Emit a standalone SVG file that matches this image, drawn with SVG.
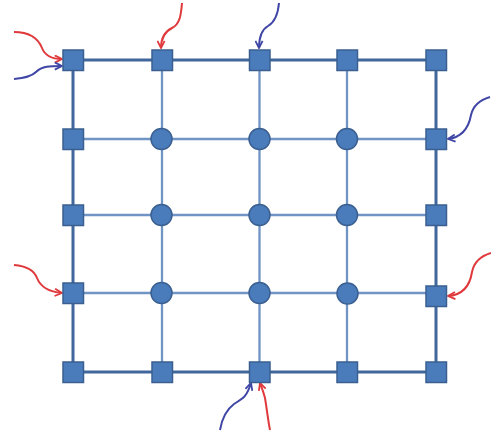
<svg xmlns="http://www.w3.org/2000/svg" width="491" height="432" viewBox="0 0 491 432">
<defs>
<style>
.outer{stroke:#41679c;stroke-width:3;fill:none}
.inner{stroke:#7094c4;stroke-width:2.3;fill:none}
.sq{fill:#4a7cbc;stroke:#3a5f90;stroke-width:1.5}
.ci{fill:#4a7cbc;stroke:#3a5f90;stroke-width:1.5}
.red{stroke:#e0393c;stroke-width:2;fill:none;marker-end:url(#ar)}
.blue{stroke:#3f46a6;stroke-width:2;fill:none;marker-end:url(#ab)}
</style>
<marker id="ar" viewBox="0 0 10 10" refX="9" refY="5" markerWidth="4.5" markerHeight="4.5" orient="auto" markerUnits="strokeWidth">
<path d="M1,1 L9,5 L1,9" fill="none" stroke="#e0393c" stroke-width="2"/>
</marker>
<marker id="ab" viewBox="0 0 10 10" refX="9" refY="5" markerWidth="4.5" markerHeight="4.5" orient="auto" markerUnits="strokeWidth">
<path d="M1,1 L9,5 L1,9" fill="none" stroke="#3f46a6" stroke-width="2"/>
</marker>
</defs>
<rect width="491" height="432" fill="#ffffff"/>
<g id="connectors">
<path class="inner" d="M73,139 H436 M73,215 H436 M73,293 H436"/>
<path class="inner" d="M162,60 V372 M259.5,60 V372 M347,60 V372"/>
<path class="outer" d="M73,60 H436 V372 H73 Z"/>
<path class="red" d="M14,32 C30,32 38,38 42,48 C45,56 52,59 62,59"/>
<path class="blue" d="M14,79 C26,78 32,76 36,72 C42,66 50,66 62,66"/>
<path class="red" d="M182,3 C181,15 180,24 172,28 C164,32 161,38 161,48"/>
<path class="blue" d="M279,3 C278,14 275,22 268,26 C261,30 259,38 259,48"/>
<path class="blue" d="M490,97 C480,100 473,106 471,115 C469,126 464,137 448,139"/>
<path class="red" d="M14,265 C26,266 34,270 37,278 C41,288 50,292 62,293"/>
<path class="red" d="M491,253 C481,256 474,262 472,272 C470,285 464,295 448,296"/>
<path class="blue" d="M220,430 C222,418 226,410 234,404 C244,398 247,396 251,383"/>
<path class="red" d="M270,430 C268,420 267,410 265,398 C263,390 261,386 260,383"/>
</g>
<g id="n00"><rect class="sq" x="63" y="50" width="20.5" height="20.5"/></g>
<g id="n01"><rect class="sq" x="152" y="50" width="20.5" height="20.5"/></g>
<g id="n02"><rect class="sq" x="249.5" y="50" width="20.5" height="20.5"/></g>
<g id="n03"><rect class="sq" x="337" y="50" width="20.5" height="20.5"/></g>
<g id="n04"><rect class="sq" x="426" y="50" width="20.5" height="20.5"/></g>
<g id="n10"><rect class="sq" x="63" y="129" width="20.5" height="20.5"/></g>
<g id="n11"><circle class="ci" cx="161.5" cy="139" r="10.5"/></g>
<g id="n12"><circle class="ci" cx="259.5" cy="139" r="10.5"/></g>
<g id="n13"><circle class="ci" cx="347" cy="139" r="10.5"/></g>
<g id="n14"><rect class="sq" x="426" y="129" width="20.5" height="20.5"/></g>
<g id="n20"><rect class="sq" x="63" y="205" width="20.5" height="20.5"/></g>
<g id="n21"><circle class="ci" cx="161.5" cy="215" r="10.5"/></g>
<g id="n22"><circle class="ci" cx="259.5" cy="215" r="10.5"/></g>
<g id="n23"><circle class="ci" cx="347" cy="215" r="10.5"/></g>
<g id="n24"><rect class="sq" x="426" y="205" width="20.5" height="20.5"/></g>
<g id="n30"><rect class="sq" x="63" y="283" width="20.5" height="20.5"/></g>
<g id="n31"><circle class="ci" cx="161.5" cy="293" r="10.5"/></g>
<g id="n32"><circle class="ci" cx="259.5" cy="293" r="10.5"/></g>
<g id="n33"><circle class="ci" cx="347.5" cy="293.5" r="10.5"/></g>
<g id="n34"><rect class="sq" x="426" y="286" width="20.5" height="20.5"/></g>
<g id="n40"><rect class="sq" x="63" y="362" width="20.5" height="20.5"/></g>
<g id="n41"><rect class="sq" x="152" y="362" width="20.5" height="20.5"/></g>
<g id="n42"><rect class="sq" x="249.5" y="362" width="20.5" height="20.5"/></g>
<g id="n43"><rect class="sq" x="337" y="362" width="20.5" height="20.5"/></g>
<g id="n44"><rect class="sq" x="426" y="362" width="20.5" height="20.5"/></g>
</svg>
